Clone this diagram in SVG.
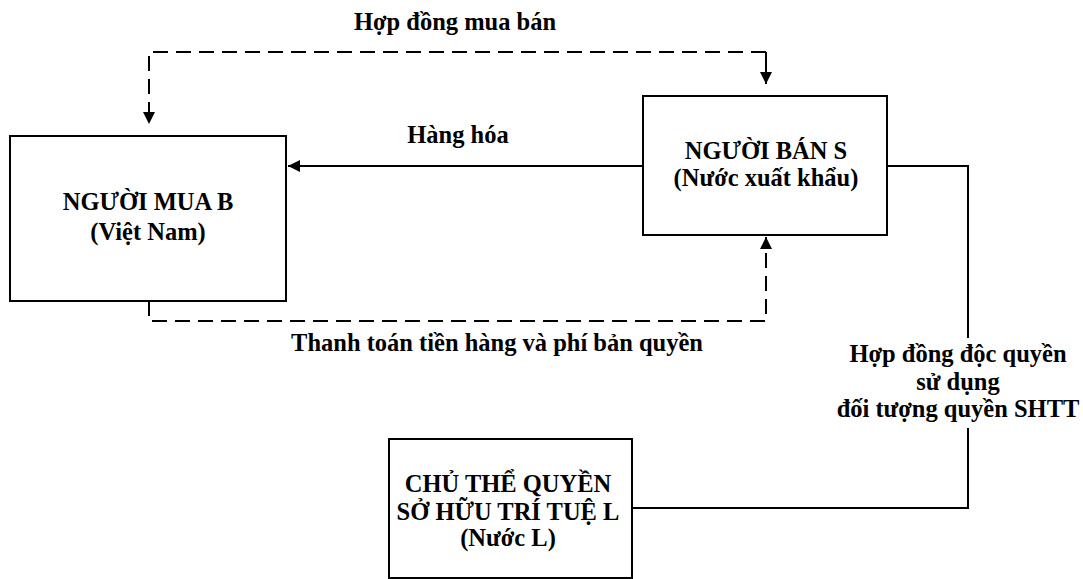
<svg xmlns="http://www.w3.org/2000/svg" width="1083" height="579" viewBox="0 0 1083 579">
<defs>
<marker id="arr" viewBox="0 0 10 10" refX="10" refY="5" markerWidth="13" markerHeight="12" markerUnits="userSpaceOnUse" orient="auto">
<path d="M0,0 L10,5 L0,10 z" fill="#000"/>
</marker>
<style>
.box{fill:#fff;stroke:#000;stroke-width:2}
.t{font-family:"Liberation Serif","Times New Roman",serif;font-weight:bold;font-size:24.5px;fill:#000;text-anchor:middle}
.ln{fill:none;stroke:#000;stroke-width:2}
.dash{stroke-dasharray:15 8}
</style>
</defs>
<g id="connectors">
<path class="ln dash" d="M766,52 H149 V124" marker-end="url(#arr)"/>
<path class="ln" d="M766,52 V84" marker-end="url(#arr)"/>
<path class="ln" d="M643,166 H288" marker-end="url(#arr)"/>
<path class="ln dash" d="M149,301 V321 H766 V237" marker-end="url(#arr)"/>
<path class="ln" d="M887,166 H968 V338"/>
<path class="ln" d="M968,428 V508 H632"/>
<text class="t" x="455" y="30">Hợp đồng mua bán</text>
<text class="t" x="458" y="143">Hàng hóa</text>
<text class="t" x="497" y="351">Thanh toán tiền hàng và phí bản quyền</text>
<text class="t" x="958" y="362">Hợp đồng độc quyền</text>
<text class="t" x="958" y="390">sử dụng</text>
<text class="t" x="958" y="417">đối tượng quyền SHTT</text>
</g>
<g id="nodeB">
<rect class="box" x="10" y="136" width="276" height="165"/>
<text class="t" x="148" y="210">NGƯỜI MUA B</text>
<text class="t" x="148" y="240">(Việt Nam)</text>
</g>
<g id="nodeS">
<rect class="box" x="643" y="96" width="244" height="139"/>
<text class="t" x="766" y="159">NGƯỜI BÁN S</text>
<text class="t" x="766" y="186">(Nước xuất khẩu)</text>
</g>
<g id="nodeL">
<rect class="box" x="389" y="439" width="243" height="139"/>
<text class="t" x="508" y="492">CHỦ THỂ QUYỀN</text>
<text class="t" x="508" y="520">SỞ HỮU TRÍ TUỆ L</text>
<text class="t" x="508" y="546">(Nước L)</text>
</g>
</svg>
